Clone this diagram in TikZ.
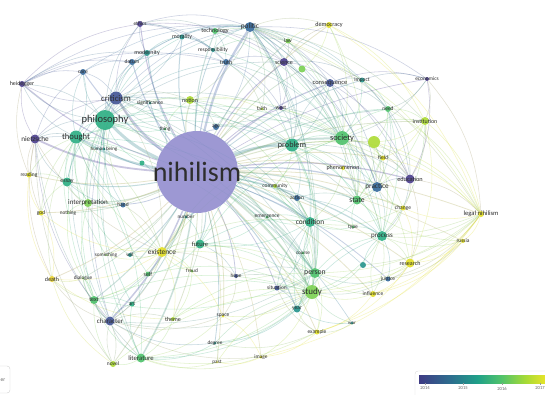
\documentclass[tikz,border=0pt]{standalone}
\usepackage{fontspec}
\setmainfont{Carlito}
\usetikzlibrary{backgrounds}
\pgfdeclarelayer{bottom}
\pgfsetlayers{bottom,background,main}
\definecolor{nihil}{HTML}{8C87CC}
\definecolor{vpur}{HTML}{4A3D8C}
\definecolor{vind}{HTML}{405394}
\definecolor{vblu}{HTML}{35699C}
\definecolor{vtea}{HTML}{24938B}
\definecolor{vtg}{HTML}{2BAE82}
\definecolor{vgrn}{HTML}{4DC26B}
\definecolor{vlg}{HTML}{7BD152}
\definecolor{vlim}{HTML}{ACDB33}
\definecolor{vyel}{HTML}{E2DF24}
\definecolor{vgold}{HTML}{E6CF2A}
\definecolor{vs0}{HTML}{3E3B84}
\definecolor{vs1}{HTML}{2C6E8E}
\definecolor{vs2}{HTML}{1FA088}
\definecolor{vs3}{HTML}{51C36A}
\definecolor{vs4}{HTML}{A6DA35}
\definecolor{vs5}{HTML}{FDE725}
\pgfdeclarehorizontalshading{viridis}{100bp}{color(0bp)=(vs0); color(25bp)=(vs0); color(37bp)=(vs1); color(47bp)=(vs2); color(56bp)=(vs3); color(65bp)=(vs4); color(75bp)=(vs5); color(100bp)=(vs5)}
\tikzset{
  vx/.style 2 args={circle, inner sep=0pt, minimum size=#2, fill=#1, fill opacity=0.9, draw=none},
  lab/.style={text=black!82, inner sep=0pt, fill=none, text opacity=1},
  ed/.style={draw opacity=0.27, line width=0.55pt},
  legtxt/.style={text=black!60, font=\fontsize{4.6pt}{5pt}\selectfont, inner sep=0pt}
}
\newcommand\N[7]{\colorlet{k#1}{#4}\node[vx={#4}{#5pt}, label={[lab,font=\fontsize{#6pt}{#6pt}\selectfont]center:#7}] (#1) at (#2,#3) {};}
\newcommand\M[5]{\colorlet{k#1}{#4}\node[vx={#4}{#5pt}] (#1) at (#2,#3) {};}
\begin{document}
\begin{tikzpicture}[x=1pt,y=-1pt]
\useasboundingbox (0,0) rectangle (545,394);
\begin{pgfonlayer}{bottom}
\fill[white] (0,0) rectangle (545,394);
\end{pgfonlayer}
% nodes
\node[vx={nihil}{82pt}, fill opacity=0.85, label={[lab,font=\fontsize{28pt}{28pt}\selectfont]center:nihilism}] (nihilism) at (197,172) {};
\colorlet{knihilism}{nihil}
\N{philosophy}{105}{120}{vtg}{20}{10.5}{philosophy}
\N{criticism}{116}{98}{vind}{13}{8.8}{criticism}
\N{thought}{76}{137}{vtg}{13}{8.6}{thought}
\N{nietzsche}{35}{139}{vpur}{9}{7.2}{nietzsche}
\N{heidegger}{22}{84}{vpur}{6}{6}{heidegger}
\N{ethics}{140}{24}{vpur}{6}{5.4}{ethics}
\N{modernity}{147}{53}{vtea}{6}{6}{modernity}
\N{datum}{132}{62}{vblu}{6}{5.6}{datum}
\N{care}{83}{72}{vblu}{6}{5.6}{care}
\N{morality}{182}{37}{vtea}{5}{5.9}{morality}
\N{technology}{215}{31}{vgrn}{6}{6.1}{technology}
\N{politic}{250}{27}{vblu}{10}{7.3}{politic}
\N{democracy}{329}{25}{vyel}{6}{6.1}{democracy}
\N{responsibility}{213}{50}{vtea}{4}{5.5}{responsibility}
\N{truth}{226}{62}{vblu}{6}{6}{truth}
\N{law}{288}{41}{vlg}{5}{5.5}{law}
\N{science}{284}{62}{vpur}{8}{6}{science}
\M{anona}{302}{69}{vlg}{7}
\N{consequence}{330}{83}{vind}{8}{6.5}{consequence}
\N{impact}{362}{80}{vtea}{5}{5.5}{impact}
\N{economics}{427}{79}{vpur}{4}{5.4}{economics}
\N{need}{388}{109}{vgrn}{6}{5.5}{need}
\N{institution}{425}{121}{vlim}{8}{5.9}{institution}
\N{notion}{190}{100}{vlim}{8}{6}{notion}
\N{faith}{262}{109}{vlim}{3}{5.5}{faith}
\N{west}{281}{108}{vpur}{4}{5.5}{west}
\N{significance}{150}{103}{vtea}{3}{5.6}{significance}
\N{thing}{165}{129}{vgrn}{3}{5.2}{thing}
\N{age}{216}{127}{vblu}{6}{5.5}{age}
\N{problem}{292}{145}{vtg}{13}{8.2}{problem}
\N{society}{342}{138}{vgrn}{14}{8.4}{society}
\M{anonb}{374}{142}{vlim}{12}
\N{phenomenon}{343}{168}{vyel}{4}{6}{phenomenon}
\N{field}{383}{158}{vyel}{5}{5.5}{field}
\N{education}{410}{179}{vpur}{9}{6.3}{education}
\N{practice}{377}{187}{vblu}{10}{7.2}{practice}
\N{state}{357}{200}{vgrn}{9}{7.6}{state}
\N{change}{403}{208}{vyel}{5}{5.5}{change}
\N{legal}{481}{214}{vyel}{6}{6.6}{legal nihilism}
\N{process}{382}{236}{vtg}{10}{7}{process}
\N{russia}{463}{241}{vyel}{4}{5.5}{russia}
\N{community}{275}{186}{vlim}{4}{5.5}{community}
\N{action}{297}{198}{vblu}{6}{5.5}{action}
\N{type}{353}{227}{vgrn}{3}{5.5}{type}
\N{number}{186}{217}{vtea}{3}{5.2}{number}
\N{emergence}{267}{217}{vgrn}{3}{5.5}{emergence}
\N{condition}{310}{222}{vtg}{10}{7.4}{condition}
\N{future}{200}{244}{vtg}{9}{6.5}{future}
\N{course}{303}{253}{vgrn}{3}{5.2}{course}
\N{essay}{67}{182}{vtg}{9}{6}{essay}
\N{interpretation}{88}{203}{vlg}{8}{7}{interpretation}
\N{hand}{123}{205}{vblu}{5}{5.5}{hand}
\N{reading}{29}{175}{vyel}{5}{5.5}{reading}
\N{god}{41}{213}{vyel}{5}{5.5}{god}
\N{nothing}{68}{213}{vlg}{2}{5.2}{nothing}
\N{something}{106}{255}{vlg}{2}{5.2}{something}
\N{will}{130}{255}{vtea}{4}{5.2}{will}
\N{existence}{162}{252}{vyel}{10}{7.4}{existence}
\N{death}{52}{279}{vgold}{6}{6}{death}
\N{dialogue}{83}{278}{vlg}{2}{5.3}{dialogue}
\N{self}{148}{274}{vgrn}{5}{6}{self}
\N{freud}{192}{271}{vlg}{3}{5.3}{freud}
\N{hope}{236}{276}{vind}{4}{5.3}{hope}
\N{text}{94}{300}{vgrn}{8}{6}{text}
\N{art}{132}{304}{vtg}{5}{5.3}{art}
\N{character}{110}{321}{vind}{9}{6.9}{character}
\N{theme}{173}{319}{vlim}{4}{6}{theme}
\N{literature}{141}{358}{vgrn}{9}{6.7}{literature}
\N{novel}{113}{364}{vlim}{6}{5.5}{novel}
\N{person}{315}{273}{vgrn}{10}{7.7}{person}
\N{study}{312}{292}{vlg}{14}{9}{study}
\N{situation}{277}{288}{vind}{5}{5.5}{situation}
\N{year}{297}{309}{vtea}{7}{5.5}{year}
\N{space}{223}{316}{vyel}{3}{5.5}{space}
\N{war}{352}{323}{vtea}{3}{5}{war}
\N{example}{317}{332}{vyel}{5}{5.5}{example}
\N{degree}{215}{343}{vtea}{3}{5.3}{degree}
\N{image}{261}{357}{vyel}{3}{5.3}{image}
\N{past}{217}{362}{vyel}{2}{5.3}{past}
\N{research}{410}{263}{vyel}{9}{6}{research}
\N{justice}{388}{279}{vblu}{5}{5.5}{justice}
\N{influence}{373}{294}{vyel}{6}{5.5}{influence}
\N{human}{104}{149}{vtea}{3}{5}{human being}
\M{anonc}{142}{163}{vtg}{5}
\M{anond}{363}{265}{vtea}{6}
% edges
\begin{pgfonlayer}{background}
\foreach \b/\w in {philosophy/3, criticism/2.5, thought/2, nietzsche/1.8, problem/2.2, society/2, politic/2.2, study/1.8, person/1.5, condition/1.5, existence/1.5, character/1.5, literature/1.5, process/1.2, state/1.2, practice/1.2, education/1.2, heidegger/1, ethics/1, modernity/1, datum/1, care/1, morality/1, technology/1, democracy/0.8, responsibility/0.8, truth/1, law/0.8, science/1, anona/0.8, consequence/1.2, impact/0.8, economics/0.6, need/0.8, institution/0.8, notion/1, faith/0.8, west/0.8, significance/0.8, thing/0.8, age/0.8, anonb/1, phenomenon/0.8, field/0.8, change/0.8, legal/0.8, russia/0.6, community/0.8, action/1, type/0.8, number/0.8, emergence/0.8, future/1, course/0.8, essay/1, interpretation/1.2, hand/0.8, reading/0.8, god/0.8, nothing/0.6, something/0.6, will/0.8, death/0.8, dialogue/0.6, self/0.8, freud/0.6, hope/0.8, text/1, art/0.8, theme/0.8, novel/0.8, situation/0.8, year/1, space/0.8, war/0.6, example/0.8, degree/0.8, image/0.6, past/0.6, research/0.8, justice/0.8, influence/0.8, human/0.8, anonc/0.6, anond/0.6}
  {\colorlet{ec}{k\b!55!nihil}\draw[ed, draw opacity=0.35, line width=\w pt, draw=ec] (nihilism) to[bend left=10] (\b);}
\foreach \a/\b in {heidegger/politic, heidegger/ethics, care/politic, ethics/politic, ethics/technology, heidegger/care, criticism/politic, philosophy/politic, datum/politic, modernity/politic, morality/politic, technology/politic, politic/democracy, politic/law, politic/science, politic/consequence, science/democracy, law/democracy, consequence/economics, politic/economics, impact/economics, science/impact, truth/science, responsibility/politic, criticism/ethics, criticism/modernity, criticism/datum, philosophy/care, philosophy/ethics, philosophy/modernity, philosophy/datum, philosophy/morality, philosophy/truth, philosophy/notion, philosophy/significance, criticism/significance, criticism/notion, thought/criticism, philosophy/criticism, thought/philosophy, care/datum, modernity/morality, ethics/morality, morality/responsibility, technology/responsibility, technology/truth, truth/faith, truth/west, politic/truth, politic/notion, politic/west, politic/faith, politic/age, science/consequence, law/science, anona/consequence, politic/anona, science/west, notion/age, notion/faith, significance/notion, thing/notion, philosophy/science}
  {\colorlet{ec}{k\a!50!k\b}\draw[ed, draw=ec] (\a) to[bend left=18] (\b);}
\foreach \a/\b in {democracy/society, democracy/anona, economics/education, economics/institution, impact/need, consequence/need, consequence/society, consequence/impact, institution/legal, need/legal, field/legal, anonb/legal, society/legal, education/legal, legal/change, legal/research, legal/russia, legal/influence, legal/justice, legal/example, legal/study, legal/process, legal/person, legal/image, legal/condition, legal/anond, education/research, education/process, institution/education, institution/field, institution/anonb, need/institution, society/institution, society/need, society/anonb, society/field, society/education, society/practice, society/state, society/process, society/change, society/research, society/phenomenon, problem/society, problem/practice, problem/state, problem/education, problem/condition, problem/action, problem/community, problem/process, problem/person, problem/study, problem/consequence, problem/need, problem/phenomenon, problem/field, practice/education, practice/state, practice/process, practice/field, state/process, state/change, state/condition, process/research, process/justice, process/influence, process/study, research/influence, research/justice, russia/research, change/research, anond/process, anond/study, field/anonb, phenomenon/state, anonb/education, anonb/state, education/change, type/process, science/society, politic/society, politic/problem, politic/state, politic/practice, politic/education, west/society, faith/problem, age/problem, community/society}
  {\colorlet{ec}{k\a!50!k\b}\draw[ed, draw=ec] (\a) to[bend left=18] (\b);}
\foreach \a/\b in {study/literature, study/character, study/example, person/study, study/year, study/situation, study/course, study/condition, example/image, example/degree, study/image, study/space, study/degree, year/literature, year/degree, person/character, person/text, person/condition, person/process, influence/study, justice/study, research/study, research/example, war/study, influence/example, literature/novel, literature/character, literature/text, literature/art, theme/literature, degree/literature, past/literature, image/literature, space/literature, character/novel, character/text, character/art, character/death, character/dialogue, character/theme, character/self, existence/character, existence/death, existence/self, existence/freud, existence/will, existence/something, existence/future, existence/theme, existence/god, existence/text, existence/hope, existence/space, condition/future, condition/emergence, condition/community, condition/action, condition/type, condition/course, condition/year, condition/situation, action/community, action/state, hope/space, freud/theme, theme/death, person/year, person/example, situation/year, image/past, degree/past, space/image, future/hope, future/self, text/art, course/year, person/situation, emergence/future}
  {\colorlet{ec}{k\a!50!k\b}\draw[ed, draw=ec] (\a) to[bend left=18] (\b);}
\foreach \a/\b in {literature/nietzsche, novel/nietzsche, character/nietzsche, death/nietzsche, death/thought, god/nietzsche, reading/nietzsche, essay/nietzsche, god/thought, reading/thought, death/reading, text/thought, character/thought, text/philosophy, literature/philosophy, character/philosophy, character/criticism, literature/criticism, interpretation/thought, interpretation/philosophy, interpretation/criticism, essay/thought, essay/philosophy, essay/criticism, nothing/thought, dialogue/death, existence/philosophy, existence/thought, existence/nietzsche, self/philosophy, art/philosophy, nietzsche/heidegger, thought/heidegger, philosophy/heidegger, criticism/heidegger, nietzsche/care, thought/care, human/philosophy, thing/philosophy, hand/interpretation, will/interpretation, something/thought, reading/heidegger, nietzsche/philosophy, nietzsche/criticism, anonc/philosophy, god/death, interpretation/essay, text/interpretation, novel/death, nothing/interpretation, novel/character, philosophy/problem, philosophy/society, criticism/society, thought/problem, philosophy/study, philosophy/condition, philosophy/person}
  {\colorlet{ec}{k\a!50!k\b}\draw[ed, draw=ec] (\a) to[bend left=18] (\b);}
\foreach \a/\b in {politic/need, politic/institution, politic/impact, politic/legal, politic/condition, politic/person, politic/study, politic/process, criticism/problem, criticism/existence, criticism/condition, criticism/study, criticism/person, criticism/state, thought/society, thought/existence, thought/condition, thought/study, thought/person, thought/literature, existence/problem, existence/society, existence/condition, existence/study, existence/person, future/problem, future/society, future/study, future/condition, future/person, notion/problem, notion/society, notion/condition, truth/problem, truth/society, science/problem, science/state, science/practice, consequence/problem, consequence/state, consequence/education, consequence/practice, impact/society, impact/education, need/education, need/practice, need/anonb, anonb/practice, anonb/process, field/education, field/practice, phenomenon/condition, phenomenon/process, action/process, action/person, action/study, community/condition, community/person, emergence/condition, type/state, type/condition, course/study, situation/condition, year/condition, year/process, example/literature, image/character, space/character, degree/character, theme/study, theme/person, self/character, self/text, self/study, hope/study, hope/person, freud/existence, will/existence, something/existence, number/future, number/existence, hand/philosophy, hand/thought, hand/essay, hand/existence, human/thought, human/criticism, thing/criticism, significance/philosophy, age/society, west/problem, faith/society, morality/criticism, morality/truth, modernity/datum, modernity/ethics, datum/truth, care/criticism, care/thought, heidegger/philosophy, heidegger/truth, heidegger/modernity, heidegger/datum, ethics/truth, ethics/responsibility, ethics/science, technology/science, technology/law, technology/society, responsibility/society, responsibility/law, law/society, law/state, law/legal, democracy/state, democracy/legal, democracy/institution, economics/need, economics/society, economics/legal, institution/process, institution/state, institution/research, need/state, need/process, russia/influence, russia/justice, russia/process, russia/state, change/process, change/practice, change/condition, research/person, justice/person, influence/person, influence/process, war/example, war/year, example/year, example/situation, past/study, degree/study, novel/study, novel/text, text/study, text/death, text/dialogue, art/study, dialogue/text, dialogue/nothing, god/essay, god/reading, reading/essay, nietzsche/thought, nietzsche/human, essay/interpretation}
  {\colorlet{ec}{k\a!50!k\b}\draw[ed, draw=ec] (\a) to[bend left=18] (\b);}
\end{pgfonlayer}
% partial box at bottom left
\draw[draw=black!18, rounded corners=3pt, fill=white] (-20,366) rectangle (10,393);
\node[legtxt, font=\fontsize{5.5pt}{6pt}\selectfont] (erlbl) at (3,380) {er};
% legend
\draw[draw=black!15, rounded corners=3pt, fill=white] (415,371) rectangle (560,398);
\shade[shading=viridis] (419,375) rectangle (552,383);
\foreach \x/\t in {425/2014, 463/2015, 502/2016, 540/2017}{
  \draw[black!40, line width=0.4pt] (\x,383) -- (\x,385);
  \node[legtxt] (y\t) at (\x,388.5) {\t};
}
\end{tikzpicture}
\end{document}
